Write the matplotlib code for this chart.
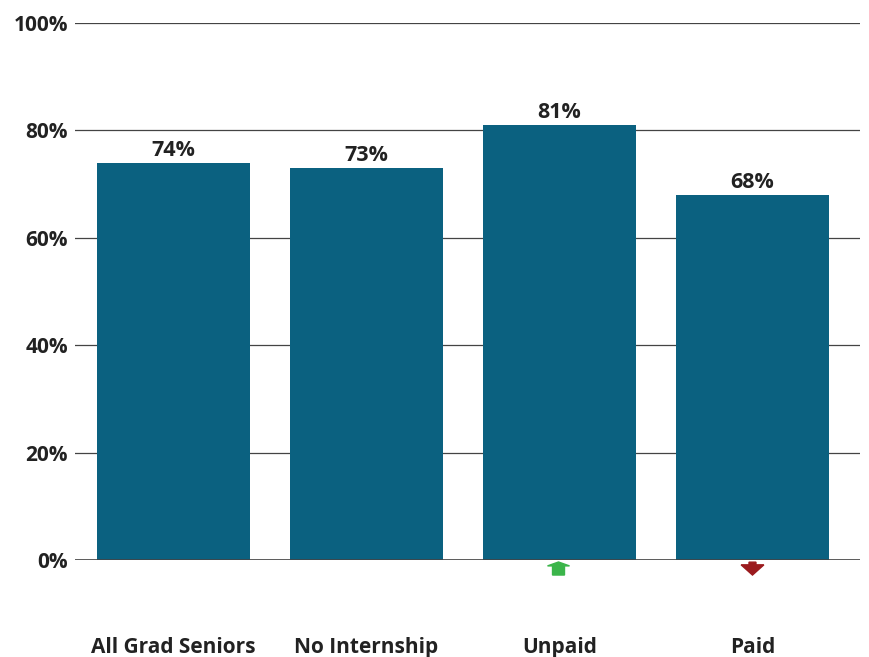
import matplotlib
matplotlib.use("Agg")
import matplotlib.pyplot as plt
from matplotlib.patches import Polygon

categories = ["All Grad Seniors", "No Internship", "Unpaid", "Paid"]
values = [74, 73, 81, 68]
changes = [0, 0, 1, -1]  # 1 = up arrow (green), -1 = down arrow (red)
yticks = [0, 20, 40, 60, 80, 100]
ytick_labels = ["0%", "20%", "40%", "60%", "80%", "100%"]

plt.rcParams['font.family'] = ['Open Sans', 'DejaVu Sans']

fig = plt.figure(figsize=(8.7, 6.57), dpi=100)
ax = fig.add_axes([75/870, (657-560)/657, 785/870, 537/657])

x = list(range(len(categories)))
bar_color = "#0B6180"
ax.bar(x, values, width=0.793, color=bar_color, zorder=3)

for xi, v in zip(x, values):
    ax.annotate(f"{v}%", (xi, v), xytext=(0, 1.5), textcoords="offset points",
                ha="center", va="bottom", fontsize=15.5, fontweight="bold", color="#222222")

ax.set_ylim(0, 100)
ax.set_xlim(-0.51, 3.557)
ax.set_yticks(yticks)
ax.set_yticklabels(ytick_labels, fontsize=15, fontweight="bold", color="#222222")
ax.set_xticks(x)
ax.set_xticklabels(categories, fontsize=15, fontweight="bold", color="#222222")
ax.tick_params(axis="y", length=0, pad=5)
ax.tick_params(axis="x", length=0, pad=55.5)
ax.yaxis.grid(True, color="#444444", linewidth=0.9, zorder=0)
ax.axhline(0, color="#444444", linewidth=1.2, zorder=4)
for s in ax.spines.values():
    s.set_visible(False)

# arrows
for xi, c in zip(x, changes):
    if c > 0:
        hw, sw = 0.057, 0.031
        pts = [(xi - 0.005, -0.37), (xi + hw - 0.005, -1.1), (xi + sw - 0.005, -1.1),
               (xi + sw - 0.005, -2.8), (xi - sw - 0.005, -2.8), (xi - sw - 0.005, -1.1),
               (xi - hw - 0.005, -1.1)]
        ax.add_patch(Polygon(pts, closed=True, color="#3BB54A", clip_on=False, zorder=5))
    elif c < 0:
        hw, sw = 0.059, 0.018
        pts = [(xi, -2.8), (xi + hw, -0.9), (xi + sw, -0.9), (xi + sw, -0.4),
               (xi - sw, -0.4), (xi - sw, -0.9), (xi - hw, -0.9)]
        ax.add_patch(Polygon(pts, closed=True, color="#9B1B1E", clip_on=False, zorder=5))

fig.savefig("out.png", dpi=100)
